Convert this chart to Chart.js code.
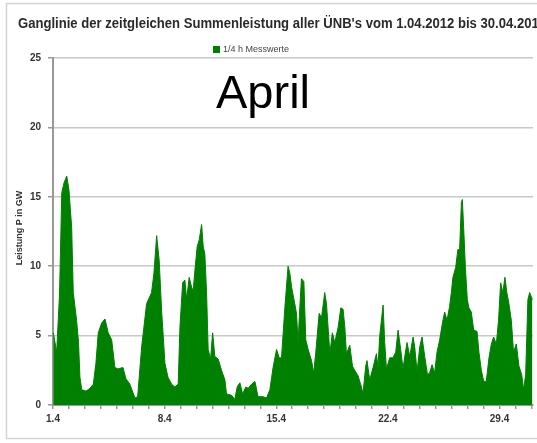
<!DOCTYPE html>
<html>
<head>
<meta charset="utf-8">
<script src="https://cdn.jsdelivr.net/npm/chart.js@4.4.0/dist/chart.umd.min.js"></script>
<style>
  html, body { margin: 0; padding: 0; background: #fff; }
  #wrap { width: 537px; height: 443px; position: relative; }
</style>
</head>
<body>
<div id="wrap"><canvas id="windChart" width="537" height="443"></canvas></div>
<script>
// Tage seit 1.04. 00:00 und Summenleistung in GW
const days = [
  0.02, 0.23, 0.41, 0.55, 0.69, 0.86, 1.00, 1.17, 1.27, 1.48, 1.60, 1.69, 1.80, 2.07, 2.32, 2.53,
  2.69, 2.84, 3.05, 3.26, 3.46, 3.68, 3.88, 4.07, 4.39, 4.57, 4.82, 5.14, 5.31, 5.56, 5.87, 6.18,
  6.33, 6.50, 6.66, 6.81, 7.02, 7.21, 7.44, 7.64, 7.85, 7.96, 8.13, 8.27, 8.38, 8.54, 8.69, 8.79,
  8.90, 9.04, 9.17, 9.32, 9.42, 9.52, 9.63, 9.73, 9.88, 10.01, 10.15, 10.36, 10.57, 10.78, 10.88,
  11.20, 11.40, 11.55, 11.72, 11.89, 12.09, 12.24, 12.45, 12.66, 12.86, 13.18, 13.39, 13.60, 13.80,
  14.02, 14.18, 14.33, 14.54, 14.74, 14.85, 14.96, 15.16, 15.27, 15.37, 15.48, 15.58, 15.73, 15.85,
  16.00, 16.21, 16.35, 16.48, 16.69, 16.84, 17.04, 17.15, 17.36, 17.52, 17.67, 17.88, 18.05, 18.19,
  18.30, 18.40, 18.61, 18.78, 18.92, 19.13, 19.34, 19.44, 19.61, 19.69, 19.86, 20.07, 20.28, 20.38,
  20.49, 20.70, 20.80, 20.91, 21.12, 21.32, 21.49, 21.64, 21.79, 21.95, 22.06, 22.20, 22.37, 22.58,
  22.68, 22.83, 23.00, 23.14, 23.31, 23.48, 23.62, 23.77, 23.93, 24.08, 24.25, 24.42, 24.56, 24.71,
  24.87, 24.98, 25.08, 25.25, 25.39, 25.50, 25.61, 25.67, 25.75, 25.86, 25.98, 26.08, 26.23, 26.38,
  26.59, 26.71, 26.86, 27.01, 27.17, 27.34, 27.49, 27.63, 27.80, 27.94, 28.07, 28.21, 28.34, 28.46,
  28.59, 28.74, 28.88, 29.05, 29.22, 29.39, 29.51, 29.64, 29.78, 29.89, 30.06
];
const leistung = [
  5.2, 3.8, 8.0, 15.3, 16.0, 16.5, 15.5, 12.8, 8.1, 6.1, 4.5, 2.0, 1.1, 1.0, 1.2, 1.5,
  3.0, 5.2, 5.9, 6.2, 5.2, 4.7, 2.7, 2.6, 2.7, 1.9, 1.5, 0.5, 0.6, 4.2, 7.3, 8.1,
  9.5, 12.2, 10.4, 6.8, 3.0, 2.0, 1.5, 1.3, 1.5, 5.6, 8.8, 9.0, 7.6, 9.2, 8.5, 8.2,
  9.7, 11.4, 11.9, 13.0, 11.4, 10.9, 8.1, 4.0, 3.3, 5.2, 3.5, 3.3, 2.5, 1.8, 0.8,
  0.7, 0.4, 1.3, 1.6, 0.8, 1.3, 1.2, 1.5, 1.7, 0.6, 0.6, 0.5, 1.1, 2.7,
  4.0, 3.4, 3.4, 7.0, 10.0, 9.5, 8.5, 7.3, 6.6, 4.5, 7.1, 9.1, 8.9, 4.7,
  4.0, 3.2, 2.3, 3.8, 6.6, 6.3, 8.1, 7.3, 3.7, 5.2, 4.5, 5.6, 7.0, 6.9,
  5.6, 3.7, 4.3, 2.8, 2.5, 2.1, 1.3, 0.8, 2.8, 3.2, 1.8, 2.7, 3.7, 2.7,
  5.0, 7.2, 4.5, 2.6, 3.4, 3.4, 3.8, 5.4, 4.1, 2.6, 3.5, 4.5, 3.5, 4.9,
  4.2, 2.4, 4.2, 4.9, 3.5, 2.2, 2.3, 2.9, 2.3, 3.8, 4.7, 5.9, 6.7, 6.1,
  7.1, 8.1, 9.2, 9.9, 11.2, 11.2, 14.6, 14.8, 12.8, 9.9, 7.6, 7.0, 6.7, 5.4,
  5.3, 3.8, 2.5, 1.7, 1.7, 3.4, 4.4, 4.9, 4.4, 6.1, 8.8, 8.1, 9.2, 8.1,
  7.3, 6.1, 3.8, 4.4, 2.8, 2.2, 1.1, 2.2, 7.6, 8.1, 7.6
];
const xLabelDays = [0, 7, 14, 21, 28];   // 1.4, 8.4, 15.4, 22.4, 29.4
const yTicks = [0, 5, 10, 15, 20, 25];

const titleText = "Ganglinie der zeitgleichen Summenleistung aller ÜNB's vom 1.04.2012 bis 30.04.2012";
const legendText = '1/4 h Messwerte';
const yTitle = 'Leistung P in GW';
const green = '#008000';

// Rahmen, Titel, Legende und "April" direkt auf den Canvas
const decoPlugin = {
  id: 'deco',
  beforeDraw(chart) {
    const c = chart.ctx;
    c.save();
    c.fillStyle = '#fff';
    c.fillRect(0, 0, chart.width, chart.height);
    c.strokeStyle = '#d4d4d4';
    c.lineWidth = 1.5;
    c.strokeRect(6.5, 3.5, 560, 435);
    c.restore();
  },
  afterDraw(chart) {
    const c = chart.ctx;
    c.save();
    // Titel, leicht gestaucht wie Calibri
    c.font = 'bold 14px "Liberation Sans", Arial, sans-serif';
    c.fillStyle = '#2a2a2a';
    c.textBaseline = 'alphabetic';
    const w = c.measureText(titleText).width;
    c.translate(18, 28);
    c.scale(528 / w, 1);
    c.fillText(titleText, 0, 0);
    c.restore();

    c.save();
    c.fillStyle = green;
    c.fillRect(213, 46, 7, 7);
    c.font = '9px "Liberation Sans", Arial, sans-serif';
    c.fillStyle = '#444';
    c.textBaseline = 'middle';
    c.fillText(legendText, 223, 50);

    c.font = '47px "Liberation Sans", Arial, sans-serif';
    c.fillStyle = '#000';
    c.textBaseline = 'alphabetic';
    c.fillText('April', 216, 108);

    // Achsentitel
    c.translate(20, 228);
    c.rotate(-Math.PI / 2);
    c.font = 'bold 9px "Liberation Sans", Arial, sans-serif';
    c.fillStyle = '#333';
    c.textAlign = 'center';
    c.textBaseline = 'middle';
    c.fillText(yTitle, 0, 0);
    c.restore();
  }
};

new Chart(document.getElementById('windChart'), {
  type: 'line',
  data: {
    datasets: [{
      label: legendText,
      data: days.map((d, i) => ({ x: d, y: leistung[i] })),
      borderColor: green,
      backgroundColor: green,
      borderWidth: 1,
      fill: 'origin',
      pointRadius: 0,
      tension: 0
    }]
  },
  options: {
    responsive: false,
    animation: false,
    devicePixelRatio: 1,
    layout: { padding: { top: 58, right: 4, bottom: 12, left: 0 } },
    scales: {
      x: {
        type: 'linear',
        min: 0,
        max: 30.1,
        afterFit: s => { s.height = 26; },
        afterBuildTicks: s => {
          s.ticks = [];
          for (let d = 0; d <= 30; d++) s.ticks.push({ value: d });
        },
        ticks: {
          autoSkip: false,
          maxRotation: 0,
          color: '#333',
          font: { family: '"Liberation Sans", Arial', size: 10, weight: 'bold' },
          padding: 4,
          callback: v => xLabelDays.includes(v) ? (1 + v) + '.4' : ''
        },
        grid: { drawOnChartArea: false, drawTicks: true, tickLength: 4, color: '#999', lineWidth: 1.5 },
        border: { color: '#999', width: 2 }
      },
      y: {
        min: 0,
        max: 25,
        afterFit: s => { s.width = 53; },
        afterBuildTicks: s => { s.ticks = yTicks.map(v => ({ value: v })); },
        ticks: {
          color: '#333',
          font: { family: '"Liberation Sans", Arial', size: 10, weight: 'bold' },
          padding: 7
        },
        grid: { color: '#c8c8c8', lineWidth: 1.5, tickLength: 5, tickColor: '#999' },
        border: { color: '#999', width: 2 }
      }
    },
    plugins: {
      legend: { display: false },
      title: { display: false },
      tooltip: { enabled: false }
    }
  },
  plugins: [decoPlugin]
});
</script>
</body>
</html>
